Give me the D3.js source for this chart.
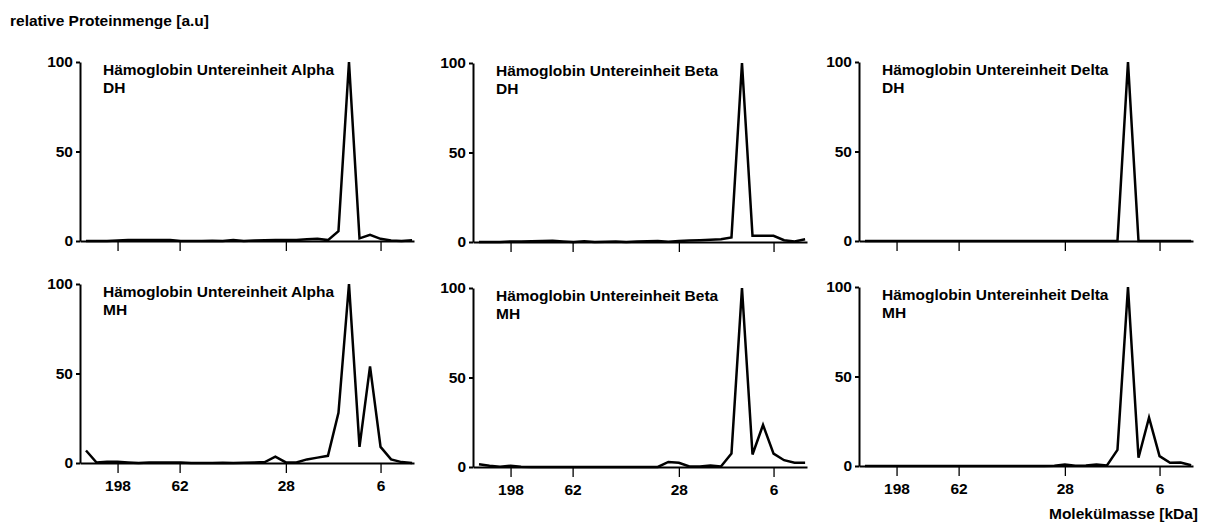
<!DOCTYPE html>
<html>
<head>
<meta charset="utf-8">
<script src="https://cdn.jsdelivr.net/npm/d3@7"></script>
<style>
  html, body { margin: 0; padding: 0; background: #fff; }
  svg text { font-family: "Liberation Sans", Arial, Helvetica, sans-serif; font-weight: bold; fill: #000; }
</style>
</head>
<body>
<svg id="chart" width="1209" height="524"></svg>
<script>
// ---- data ----
const sliceIndex = [0,1,2,3,4,5,6,7,8,9,10,11,12,13,14,15,16,17,18,19,20,21,22,23,24,25,26,27,28,29,30,31];
const tickPositions = [3.0, 8.9, 19.0, 28.0];
const tickLabels = ["198", "62", "28", "6"];
const yTicks = [0, 50, 100];

const alphaDH = [0,0,0,0.3,0.5,0.6,0.6,0.6,0.5,0,0,0,0.1,0,0.5,0,0.3,0.4,0.5,0.5,0.6,1.0,1.3,0.5,5.5,100,1.5,3.5,1.2,0.3,0,0.4];
const alphaMH = [7,0.3,0.7,0.7,0.3,0,0.3,0.3,0.3,0.3,0,0,0,0.2,0,0.2,0.3,0.5,3.5,0.3,0.3,2,3,4,28,100,9,54,9,2,0.5,0];
const betaDH  = [0,0,0,0.3,0.3,0.4,0.5,0.7,0.3,0,0.4,0,0.1,0.3,0,0.3,0.4,0.6,0.2,0.5,0.8,1.0,1.2,1.5,2.5,100,3.5,3.5,3.5,1,0.3,1.5];
const betaMH  = [1.5,0.7,0.2,0.7,0.2,0,0,0,0,0,0,0,0,0,0,0,0,0,2.8,2.4,0.3,0.3,0.8,0.3,7.5,100,7,23.5,7.5,3.8,2.4,2.4];
const deltaDH = [0,0,0,0,0,0,0,0,0,0,0,0,0,0,0,0,0,0,0,0,0,0,0,0,0,100,0,0,0,0,0,0];
const deltaMH = [0,0,0,0,0,0,0,0,0,0,0,0,0,0,0,0,0,0,0.2,0.8,0.2,0.3,0.8,0.3,9,100,4.6,27,5.5,1.8,2,0.4];

const proteinNames = ["Hämoglobin Untereinheit Alpha", "Hämoglobin Untereinheit Beta", "Hämoglobin Untereinheit Delta"];
const groups = ["DH", "MH"];
const seriesGrid = [[alphaDH, betaDH, deltaDH], [alphaMH, betaMH, deltaMH]];

const titleText = "relative Proteinmenge [a.u]";
const xAxisTitle = "Molekülmasse [kDa]";

// ---- layout ----
const colX = [80, 473, 859];
const rowTop = [[62, 63, 62], [284, 288, 287]];
const plotW = 334, plotH = 179;
const fs = 15.5;

const svg = d3.select("#chart");

svg.append("text")
  .attr("x", 10).attr("y", 26)
  .style("font-size", fs + "px")
  .text(titleText);

const x = d3.scaleLinear().domain([-0.57, 31.18]).range([0, plotW]);
const y = d3.scaleLinear().domain([0, 100]).range([plotH, 0]);

const line = d3.line()
  .x((d, i) => x(sliceIndex[i]))
  .y(d => y(d));

groups.forEach((grp, r) => {
  proteinNames.forEach((name, c) => {
    const g = svg.append("g").attr("transform", `translate(${colX[c]},${rowTop[r][c]})`);

    // x axis
    const xa = d3.axisBottom(x)
      .tickValues(tickPositions)
      .tickFormat((d, i) => r === 1 ? tickLabels[i] : "")
      .tickSizeInner(10).tickSizeOuter(0).tickPadding(7);
    const gx = g.append("g").attr("transform", `translate(0,${plotH})`).call(xa);
    gx.select(".domain").attr("stroke", "#000").attr("stroke-width", 2);
    gx.selectAll(".tick line").attr("stroke", "#000").attr("stroke-width", 1.3);
    gx.selectAll(".tick text").style("font-size", fs + "px").attr("font-family", null);

    // y axis
    const ya = d3.axisLeft(y).tickValues(yTicks).tickSizeInner(4).tickSizeOuter(0).tickPadding(3);
    const gy = g.append("g").call(ya);
    gy.select(".domain").attr("stroke", "#000").attr("stroke-width", 2);
    gy.selectAll(".tick line").attr("stroke", "#000").attr("stroke-width", 2);
    gy.selectAll(".tick text").style("font-size", fs + "px").attr("font-family", null);

    // data line
    g.append("path")
      .datum(seriesGrid[r][c])
      .attr("fill", "none")
      .attr("stroke", "#000")
      .attr("stroke-width", 2.5)
      .attr("stroke-linejoin", "miter")
      .attr("d", line);

    // panel label
    const lab = g.append("text").attr("x", 23).attr("y", 13).style("font-size", fs + "px");
    lab.append("tspan").attr("x", 23).attr("dy", 0).text(name);
    lab.append("tspan").attr("x", 23).attr("dy", 18).text(grp);
  });
});

svg.append("text")
  .attr("x", 1198).attr("y", 519)
  .attr("text-anchor", "end")
  .style("font-size", fs + "px")
  .text(xAxisTitle);
</script>
</body>
</html>
